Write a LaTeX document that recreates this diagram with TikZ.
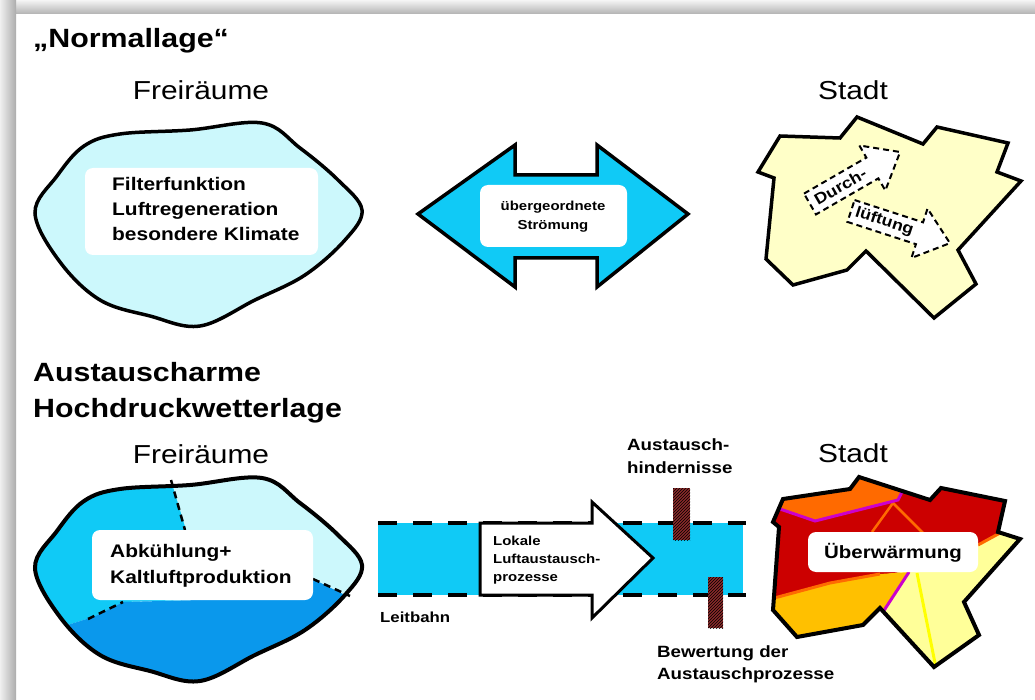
\documentclass[tikz,border=0pt]{standalone}
\usepackage{fontspec}
\setmainfont{Liberation Sans}[FakeStretch=1.15]
\usetikzlibrary{patterns}
\definecolor{cyanA}{HTML}{10CAF6}
\definecolor{lightcy}{HTML}{CCF8FC}
\definecolor{darkcy}{HTML}{0A98EC}
\definecolor{cityY}{HTML}{FFFFC8}
\definecolor{cityLY}{HTML}{FFFF99}
\definecolor{cityRed}{HTML}{CC0000}
\definecolor{cityOr}{HTML}{FF6A00}
\definecolor{cityGold}{HTML}{FFC000}
\definecolor{cityMag}{HTML}{CC00CC}
\definecolor{cityYel}{HTML}{FFFF00}
\definecolor{obst}{HTML}{8B2A2A}
\newcommand{\fs}[1]{\fontsize{#1}{#1}\selectfont}
\begin{document}
\begin{tikzpicture}[x=1pt,y=-1pt,
  outline/.style={draw=black, line width=3.5pt, line join=miter},
  whitebox/.style={fill=white, rounded corners=8pt},
  bigtitle/.style={font=\fs{26.4}\bfseries, inner sep=0, anchor=base west},
  heading/.style={font=\fs{26}, inner sep=0, anchor=base},
  boxtext/.style={font=\fs{18.2}\bfseries, inner sep=0, anchor=base west},
  smalltext/.style={font=\fs{13}\bfseries, inner sep=0, anchor=base west},
  midtext/.style={font=\fs{16.3}\bfseries, inner sep=0, anchor=base west},
  arrowtext/.style={font=\fs{15.5}\bfseries, inner sep=0, anchor=center},
  dashline/.style={draw=black, line width=4pt, dash pattern=on 19pt off 16pt},
  divline/.style={draw=black, line width=2.5pt, dash pattern=on 7pt off 5pt},
  flowarrow/.style={draw=black, fill=white, line width=2pt, dash pattern=on 6pt off 4pt, line join=miter}
]
\useasboundingbox (0,0) rectangle (1035,700);
\fill[white] (0,0) rectangle (1035,700);
% frame shadow
\shade[top color=gray!8, bottom color=gray!60] (0,0) rectangle (1035,14);
\shade[left color=gray!12, right color=gray!65] (0,0) rectangle (16,700);

\def\blob{plot[smooth cycle, tension=0.6] coordinates {(35,213) (57,176) (84,146) (120,134) (190,130) (262,123) (300,148) (338,180) (362,210) (345,240) (305,275) (255,300) (200,326) (150,316) (100,300) (60,262)}}

% ---------- Normallage ----------
\node[bigtitle] (t1) at (33,48) {„Normallage“};
\node[heading] (fr1) at (201,100) {Freiräume};
\node[heading] (st1) at (853,100) {Stadt};

\path[outline, fill=lightcy] \blob;
\fill[whitebox] (85,168) rectangle (318,255);
\node[boxtext] (b1a) at (112,191) {Filterfunktion};
\node[boxtext] (b1b) at (112,216) {Luftregeneration};
\node[boxtext] (b1c) at (112,241) {besondere Klimate};

% double arrow
\path[outline, fill=cyanA] (418,214) -- (515,145) -- (515,175) -- (597,175) -- (597,145) -- (688,214) -- (597,287) -- (597,258) -- (515,258) -- (515,287) -- cycle;
\fill[whitebox] (480,185) rectangle (627,247);
\node[smalltext, anchor=base] (da1) at (553,211) {übergeordnete};
\node[smalltext, anchor=base] (da2) at (553,230) {Strömung};

% city top
\path[outline, fill=cityY] (758,172) -- (780,136) -- (840,138) -- (857,117) -- (923,144) -- (937,127) -- (1008,143) -- (997,172) -- (1021,181) -- (958,250) -- (976,284) -- (934,318) -- (866,251) -- (847,270) -- (793,285) -- (766,259) -- (774,178) -- cycle;
\begin{scope}[shift={(810,204)}, rotate=30, transform shape]
  \path[flowarrow] (0,-12) -- (72,-12) -- (72,-26) -- (104,0) -- (72,26) -- (72,12) -- (0,12) -- cycle;
  \node[arrowtext] (dl1) at (35,0) {Durch-};
\end{scope}
\begin{scope}[shift={(851,211)}, rotate=-18, transform shape]
  \path[flowarrow] (0,-11.5) -- (72,-11.5) -- (72,-26) -- (104,0) -- (72,26) -- (72,11.5) -- (0,11.5) -- cycle;
  \node[arrowtext] (dl2) at (35,0) {lüftung};
\end{scope}

% ---------- Austauscharme ----------
\node[bigtitle] (t2a) at (33,381) {Austauscharme};
\node[bigtitle] (t2b) at (33,417) {Hochdruckwetterlage};
\node[heading] (fr2) at (201,463) {Freiräume};
\node[heading] (st2) at (853,462) {Stadt};

% blob bottom
\begin{scope}
  \clip[shift={(0,355)}] \blob;
  \fill[lightcy] (0,440) rectangle (400,700);
  \fill[cyanA] (20,460) -- (170,460) -- (173,487) -- (186,530) -- (190,600) -- (123,602) -- (93,617) -- (20,640) -- cycle;
  \fill[darkcy] (20,700) -- (20,640) -- (93,617) -- (123,602) -- (200,600) -- (313,579) -- (345,595) -- (400,612) -- (400,700) -- cycle;
\end{scope}
\draw[divline] (171,480) -- (185,530);
\draw[divline] (313,579) -- (350,596);
\draw[divline] (88,619) -- (123,602);
\path[outline, line width=4pt, shift={(0,355)}] \blob;
\fill[whitebox] (92,530) rectangle (313,600);
\node[boxtext] (b2a) at (110,557) {Abkühlung+};
\node[boxtext] (b2b) at (110,583) {Kaltluftproduktion};

% Leitbahn
\fill[cyanA] (378,523) rectangle (743,595);
\draw[dashline] (378,523) -- (746,523);
\draw[dashline] (378,595) -- (746,595);
\node[font=\fs{14.6}\bfseries, inner sep=0, anchor=base west] (lb) at (380,622) {Leitbahn};

% white arrow
\path[draw=black, line width=3pt, fill=white, line join=miter] (480,523) -- (592,523) -- (592,502) -- (653,558) -- (592,618) -- (592,595) -- (480,595) -- cycle;
\node[smalltext] (wa1) at (493,545) {Lokale};
\node[smalltext] (wa2) at (493,563) {Luftaustausch-};
\node[smalltext] (wa3) at (493,581) {prozesse};

% obstacles
\fill[obst] (673,488) rectangle (690,540);
\fill[pattern=north east lines, pattern color=black] (673,488) rectangle (690,540);
\fill[obst] (708,577) rectangle (723,628);
\fill[pattern=north east lines, pattern color=black] (708,577) rectangle (723,628);
\node[midtext] (ah1) at (627,450) {Austausch-};
\node[midtext] (ah2) at (627,473) {hindernisse};
\node[midtext] (bw1) at (657,657) {Bewertung der};
\node[midtext] (bw2) at (657,679) {Austauschprozesse};

% city bottom
\def\citytwo{(773,522) -- (783,499) -- (850,489) -- (859,477) -- (930,500) -- (941,488) -- (1005,501) -- (998,532) -- (1020,539) -- (964,602) -- (979,635) -- (934,667) -- (880,608) -- (863,625) -- (797,637) -- (773,610) -- (779,527) -- cycle}
\begin{scope}
  \clip \citytwo;
  \fill[cityLY] (750,460) rectangle (1035,680);
  \fill[cityRed] (750,460) -- (1035,460) -- (1035,528) -- (1000,533) -- (978,545) -- (900,572) -- (830,583) -- (778,597) -- (750,602) -- cycle;
  \fill[cityOr] (750,460) -- (910,460) -- (905,488) -- (898,500) -- (815,521) -- (780,509) -- (750,505) -- cycle;
  \fill[cityGold] (750,602) -- (778,597) -- (830,583) -- (880,574) -- (910,572) -- (883,612) -- (870,645) -- (750,645) -- cycle;
  \draw[cityOr, line width=3pt] (750,602) -- (778,597) -- (830,583) -- (880,574);
  \draw[cityOr, line width=3pt] (1035,527) -- (1000,533) -- (978,545);
  \draw[cityOr, line width=2.5pt] (872,532) -- (893,503) -- (927,537);
  \draw[cityMag, line width=3pt] (760,505) -- (780,509) -- (815,521) -- (898,500) -- (905,486);
  \draw[cityMag, line width=3pt] (909,572) -- (883,612);
  \draw[cityYel, line width=3pt] (917,573) -- (936,668);
\end{scope}
\path[outline, line width=4pt] \citytwo;
\fill[whitebox] (808,532) rectangle (978,572);
\node[font=\fs{17.8}\bfseries, inner sep=0, anchor=base] (uw) at (893,558) {Überwärmung};
\end{tikzpicture}
\end{document}
